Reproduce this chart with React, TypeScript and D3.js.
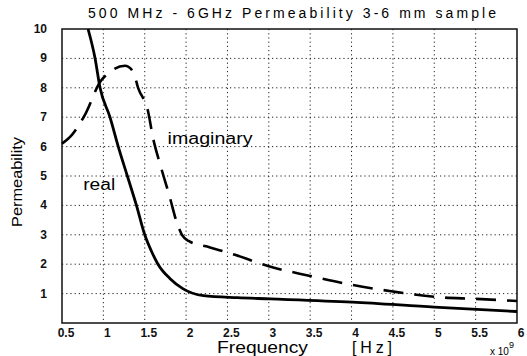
import React, { useEffect, useRef } from 'react';
import * as d3 from 'd3';

const xTicks = [0.5, 1, 1.5, 2, 2.5, 3, 3.5, 4, 4.5, 5, 5.5, 6];
const yTicks = [1, 2, 3, 4, 5, 6, 7, 8, 9, 10];

// frequency in GHz (x 10^9), permeability
const realFreq = [0.815, 0.9, 0.96, 1.08, 1.18, 1.29, 1.4, 1.5, 1.58, 1.66, 1.81, 1.96, 2.21, 2.62, 3.02, 4.01, 5.0, 6.0];
const realVal = [10, 9, 8, 7, 6, 5, 4, 3, 2.45, 2.0, 1.5, 1.17, 0.93, 0.86, 0.82, 0.71, 0.54, 0.39];

const imagFreq = [0.5, 0.62, 0.79, 0.96, 1.06, 1.26, 1.36, 1.42, 1.54, 1.6, 1.69, 1.8, 1.89, 1.95, 2.03, 2.29, 2.59, 3.0, 3.5, 4.0, 4.5, 5.0, 5.5, 6.0];
const imagVal = [6.1, 6.4, 7.15, 8.2, 8.5, 8.75, 8.55, 8.0, 7.2, 6.3, 5.36, 4.31, 3.4, 3.0, 2.79, 2.57, 2.32, 1.93, 1.6, 1.3, 1.07, 0.89, 0.82, 0.75];

const annotations = [
  { text: 'imaginary', f: 2.29, v: 6.08, len: 85 },
  { text: 'real', f: 0.95, v: 4.52, len: 32 },
];

const App: React.FC = () => {
  const svgRef = useRef<SVGSVGElement>(null);

  useEffect(() => {
    if (!svgRef.current) return;
    const width = 527;
    const height = 356;
    const margin = { top: 29, right: 10, bottom: 33, left: 62 };
    const innerWidth = width - margin.left - margin.right;
    const innerHeight = height - margin.top - margin.bottom;
    const font = 'Liberation Sans, Arial, sans-serif';

    const svg = d3.select(svgRef.current);
    svg.selectAll('*').remove();
    svg.attr('width', width).attr('height', height);

    svg.append('rect').attr('width', width).attr('height', height).attr('fill', '#fff');

    const g = svg.append('g').attr('transform', `translate(${margin.left},${margin.top})`);

    const x = d3.scaleLinear().domain([0.5, 6]).range([0, innerWidth]);
    const y = d3.scaleLinear().domain([0, 10]).range([innerHeight, 0]);

    // grid
    g.selectAll('line.vgrid')
      .data(xTicks.slice(1, -1))
      .enter()
      .append('line')
      .attr('x1', (d) => x(d))
      .attr('x2', (d) => x(d))
      .attr('y1', 0)
      .attr('y2', innerHeight)
      .attr('stroke', '#222')
      .attr('stroke-width', 1)
      .attr('stroke-dasharray', '1.2,3');

    g.selectAll('line.hgrid')
      .data(yTicks.slice(0, -1))
      .enter()
      .append('line')
      .attr('x1', 0)
      .attr('x2', innerWidth)
      .attr('y1', (d) => y(d))
      .attr('y2', (d) => y(d))
      .attr('stroke', '#222')
      .attr('stroke-width', 1)
      .attr('stroke-dasharray', '1.2,3');

    // frame
    g.append('rect')
      .attr('width', innerWidth)
      .attr('height', innerHeight)
      .attr('fill', 'none')
      .attr('stroke', '#111')
      .attr('stroke-width', 1.5);

    const line = d3
      .line<[number, number]>()
      .x((d) => x(d[0]))
      .y((d) => y(d[1]))
      .curve(d3.curveMonotoneX);

    const realPts = realFreq.map((f, i) => [f, realVal[i]] as [number, number]);
    const imagPts = imagFreq.map((f, i) => [f, imagVal[i]] as [number, number]);

    g.append('path')
      .attr('d', line(realPts) || '')
      .attr('fill', 'none')
      .attr('stroke', '#000')
      .attr('stroke-width', 2.8)
      .attr('stroke-linejoin', 'round');

    g.append('path')
      .attr('d', line(imagPts) || '')
      .attr('fill', 'none')
      .attr('stroke', '#000')
      .attr('stroke-width', 2.6)
      .attr('stroke-dasharray', '20,11');

    g.selectAll('text.ann')
      .data(annotations)
      .enter()
      .append('text')
      .attr('x', (d) => x(d.f) - d.len / 2)
      .attr('y', (d) => y(d.v))
      .attr('font-family', font)
      .attr('font-size', '16px')
      .attr('textLength', (d) => d.len)
      .attr('lengthAdjust', 'spacingAndGlyphs')
      .text((d) => d.text);

    // x tick labels
    g.selectAll('text.xt')
      .data(xTicks)
      .enter()
      .append('text')
      .attr('x', (d) => x(d) + 4)
      .attr('y', innerHeight + 14)
      .attr('text-anchor', 'middle')
      .attr('font-family', font)
      .attr('font-size', '12px')
      .attr('font-weight', 'bold')
      .attr('fill', '#111')
      .text((d) => String(d));

    // y tick labels
    g.selectAll('text.yt')
      .data(yTicks)
      .enter()
      .append('text')
      .attr('x', -15)
      .attr('y', (d) => y(d) + 4)
      .attr('text-anchor', 'end')
      .attr('font-family', font)
      .attr('font-size', '12px')
      .attr('font-weight', 'bold')
      .attr('fill', '#111')
      .text((d) => String(d));

    // title
    svg
      .append('text')
      .attr('x', 292)
      .attr('y', 18)
      .attr('text-anchor', 'middle')
      .attr('font-family', font)
      .attr('font-size', '14px')
      .attr('textLength', 408)
      .attr('lengthAdjust', 'spacing')
      .text('500 MHz - 6GHz Permeability 3-6 mm sample');

    // y label
    svg
      .append('text')
      .attr('transform', `translate(22,182) rotate(-90)`)
      .attr('text-anchor', 'middle')
      .attr('font-family', font)
      .attr('font-size', '15.5px')
      .attr('textLength', 90)
      .attr('lengthAdjust', 'spacingAndGlyphs')
      .text('Permeability');

    // x label
    svg
      .append('text')
      .attr('x', 217)
      .attr('y', 353)
      .attr('font-family', font)
      .attr('font-size', '16px')
      .attr('textLength', 91)
      .attr('lengthAdjust', 'spacingAndGlyphs')
      .text('Frequency');

    svg
      .append('text')
      .attr('x', 352)
      .attr('y', 353)
      .attr('font-family', font)
      .attr('font-size', '16px')
      .attr('textLength', 40)
      .attr('lengthAdjust', 'spacing')
      .text('[Hz]');

    const exp = svg
      .append('text')
      .attr('x', 490)
      .attr('y', 355)
      .attr('font-family', font)
      .attr('font-size', '10px');
    exp.append('tspan').text('x 10');
    exp.append('tspan').attr('dy', -7).attr('font-size', '9px').text('9');
  }, []);

  return <svg ref={svgRef} style={{ position: 'absolute', left: 0, top: 0 }} />;
};

export default App;
